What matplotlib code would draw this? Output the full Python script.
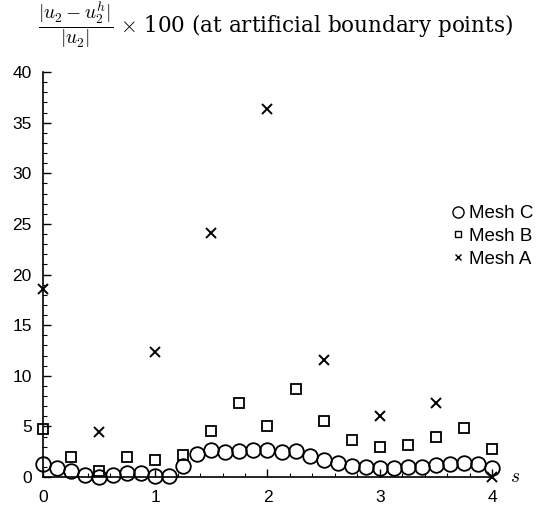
import numpy as np
import matplotlib
matplotlib.use('Agg')
import matplotlib.pyplot as plt
from matplotlib.lines import Line2D
from matplotlib.ticker import MultipleLocator

plt.rcParams['mathtext.fontset'] = 'cm'
plt.rcParams['font.family'] = ['Liberation Sans', 'DejaVu Sans']

# Mesh C: every 0.125 along s
s_c = np.arange(33) * 0.125
err_c = [1.25, 0.85, 0.6, 0.2, 0.05, 0.2, 0.35, 0.35, 0.1, 0.1, 1.1,
         2.3, 2.65, 2.5, 2.55, 2.7, 2.7, 2.5, 2.6, 2.07, 1.68, 1.35,
         1.09, 0.96, 0.86, 0.92, 0.96, 1.02, 1.18, 1.25, 1.35, 1.25, 0.86]

# Mesh B: every 0.25
s_b = np.arange(17) * 0.25
err_b = [4.7, 1.95, 0.6, 2.0, 1.7, 2.2, 4.5, 7.3, 5.0, 8.7, 5.5, 3.7,
         3.0, 3.2, 4.0, 4.8, 2.8]

# Mesh A: every 0.5
s_a = np.arange(9) * 0.5
err_a = [18.6, 4.4, 12.3, 24.1, 36.3, 11.6, 6.0, 7.3, 0.0]

fig = plt.figure(figsize=(5.56, 5.11), dpi=100)
ax = fig.add_axes([0.0773, 0.0665, 0.8076, 0.7926])

ax.plot(s_c, err_c, 'o', ms=10.5, mfc='none', mec='black', mew=1.3, clip_on=False)
ax.plot(s_b, err_b, 's', ms=6.5, mfc='none', mec='black', mew=1.3, clip_on=False)
ax.plot(s_a, err_a, 'x', ms=7.5, color='black', mew=1.4, clip_on=False)

ax.set_xlim(0, 4)
ax.set_ylim(0, 40)
ax.spines['top'].set_visible(False)
ax.spines['right'].set_visible(False)
ax.spines['left'].set_linewidth(1.2)
ax.spines['bottom'].set_linewidth(1.2)
ax.xaxis.set_major_locator(MultipleLocator(1))
ax.xaxis.set_minor_locator(MultipleLocator(0.2))
ax.yaxis.set_major_locator(MultipleLocator(5))
ax.yaxis.set_minor_locator(MultipleLocator(1))
ax.tick_params(which='both', direction='in', labelsize=12.5)
ax.tick_params(which='major', length=6, width=1)
ax.tick_params(which='minor', length=3, width=0.8)
ax.tick_params(axis='x', pad=9)
ax.tick_params(axis='y', pad=8)

ax.annotate('$s$', xy=(1, 0), xycoords='axes fraction', xytext=(13, 0),
            textcoords='offset points', fontsize=14, va='center', ha='left')

# title: fraction plus the rest of the label
fig.text(0.068, 0.952, r'$\dfrac{|u_2-u_2^h|}{|u_2|}$',
         fontsize=14, va='center', ha='left')
fig.text(0.216, 0.950, r'$\times$ 100 (at artificial boundary points)',
         fontsize=15.5, va='center', ha='left', family='DejaVu Serif')

handles = [
    Line2D([], [], ls='none', marker='o', ms=8, mfc='none', mec='black', mew=1),
    Line2D([], [], ls='none', marker='s', ms=4.5, mfc='none', mec='black', mew=1),
    Line2D([], [], ls='none', marker='x', ms=5, color='black', mew=1),
]
ax.legend(handles, ['Mesh C', 'Mesh B', 'Mesh A'], loc='upper left',
          bbox_to_anchor=(0.895, 0.69), frameon=False, fontsize=13.5,
          handlelength=0.6, handletextpad=0.3, labelspacing=0.3,
          borderaxespad=0)

fig.savefig('out.png', dpi=100)
